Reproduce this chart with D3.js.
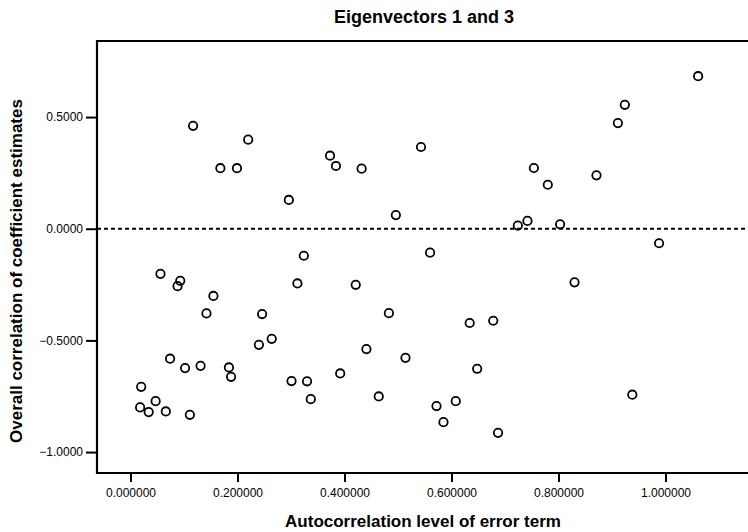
<!DOCTYPE html>
<html>
<head>
<meta charset="utf-8">
<script src="https://cdn.jsdelivr.net/npm/d3@7"></script>
<style>
  body { margin: 0; background: #fff; }
  svg { font-family: "Liberation Sans", Arial, sans-serif; }
</style>
</head>
<body>
<svg id="chart" width="748" height="532"></svg>
<script>
// values
var autocorr = [0.117, 0.220, 0.168, 0.199, 0.296, 0.373, 0.384, 0.432, 0.543, 0.496,
  0.724, 0.560, 1.061, 0.924, 0.911, 0.754, 0.780, 0.871, 0.742, 0.803,
  0.988, 0.324, 0.056, 0.093, 0.088, 0.155, 0.142, 0.312, 0.246, 0.264,
  0.240, 0.074, 0.102, 0.131, 0.184, 0.188, 0.020, 0.047, 0.018, 0.034,
  0.066, 0.111, 0.301, 0.330, 0.337, 0.421, 0.483, 0.634, 0.678, 0.441,
  0.514, 0.392, 0.464, 0.648, 0.572, 0.608, 0.585, 0.687, 0.830, 0.938];
var correlation = [0.461, 0.399, 0.271, 0.271, 0.129, 0.327, 0.281, 0.269, 0.366, 0.061,
  0.014, -0.107, 0.683, 0.555, 0.473, 0.272, 0.197, 0.239, 0.035, 0.020,
  -0.065, -0.121, -0.202, -0.233, -0.257, -0.301, -0.379, -0.245, -0.382, -0.493,
  -0.520, -0.582, -0.624, -0.614, -0.621, -0.663, -0.708, -0.772, -0.800, -0.821,
  -0.818, -0.833, -0.682, -0.683, -0.763, -0.251, -0.378, -0.422, -0.412, -0.539,
  -0.578, -0.648, -0.751, -0.627, -0.794, -0.772, -0.866, -0.914, -0.240, -0.743];
var xTicks = [0, 0.2, 0.4, 0.6, 0.8, 1.0];
var yTicks = [0.5, 0, -0.5, -1.0];

var title = "Eigenvectors 1 and 3";
var xTitle = "Autocorrelation level of error term";
var yTitle = "Overall correlation of coefficient estimates";

var margin = {top: 41, right: -20, bottom: 59, left: 97};
var width = 748 - margin.left - margin.right;
var height = 532 - margin.top - margin.bottom;

var x = d3.scaleLinear().domain([-0.0626, 1.1916]).range([0, width]);
var y = d3.scaleLinear().domain([-1.0937, 0.8406]).range([height, 0]);

var svg = d3.select('#chart');
var g = svg.append('g')
    .attr('transform', 'translate(' + margin.left + ',' + margin.top + ')');

// reference line at zero
g.append('line')
    .attr('x1', 0).attr('x2', width)
    .attr('y1', y(0)).attr('y2', y(0))
    .attr('stroke', '#000')
    .attr('stroke-width', 2)
    .attr('stroke-dasharray', '4,3');

// points
g.selectAll('circle')
    .data(autocorr)
    .enter()
    .append('circle')
    .attr('cx', function(d) { return x(d); })
    .attr('cy', function(d, i) { return y(correlation[i]); })
    .attr('r', 4.2)
    .attr('fill', 'none')
    .attr('stroke', '#000')
    .attr('stroke-width', 1.8);

// axes
var xAxis = g.append('g')
    .attr('transform', 'translate(0,' + height + ')')
    .call(d3.axisBottom(x).tickValues(xTicks).tickSize(9).tickPadding(6)
        .tickFormat(d3.format('.6f')));
var yAxis = g.append('g')
    .call(d3.axisLeft(y).tickValues(yTicks).tickSize(11).tickPadding(3)
        .tickFormat(d3.format('.4f')));

[xAxis, yAxis].forEach(function(a) {
  a.select('.domain').remove();
  a.selectAll('line').attr('stroke', '#000').attr('stroke-width', 2);
  a.selectAll('text').attr('fill', '#000').style('font-size', '12px');
});

// frame: top, left, bottom
g.append('path')
    .attr('d', 'M' + width + ',0H0V' + height + 'H' + width)
    .attr('fill', 'none')
    .attr('stroke', '#000')
    .attr('stroke-width', 2.2);

// titles
svg.append('text')
    .attr('x', 424).attr('y', 23)
    .attr('text-anchor', 'middle')
    .style('font-size', '18px')
    .style('font-weight', 'bold')
    .text(title);

svg.append('text')
    .attr('x', 423).attr('y', 527)
    .attr('text-anchor', 'middle')
    .style('font-size', '17px')
    .style('font-weight', 'bold')
    .text(xTitle);

svg.append('text')
    .attr('transform', 'translate(22,271) rotate(-90)')
    .attr('text-anchor', 'middle')
    .style('font-size', '17px')
    .style('font-weight', 'bold')
    .text(yTitle);
</script>
</body>
</html>
